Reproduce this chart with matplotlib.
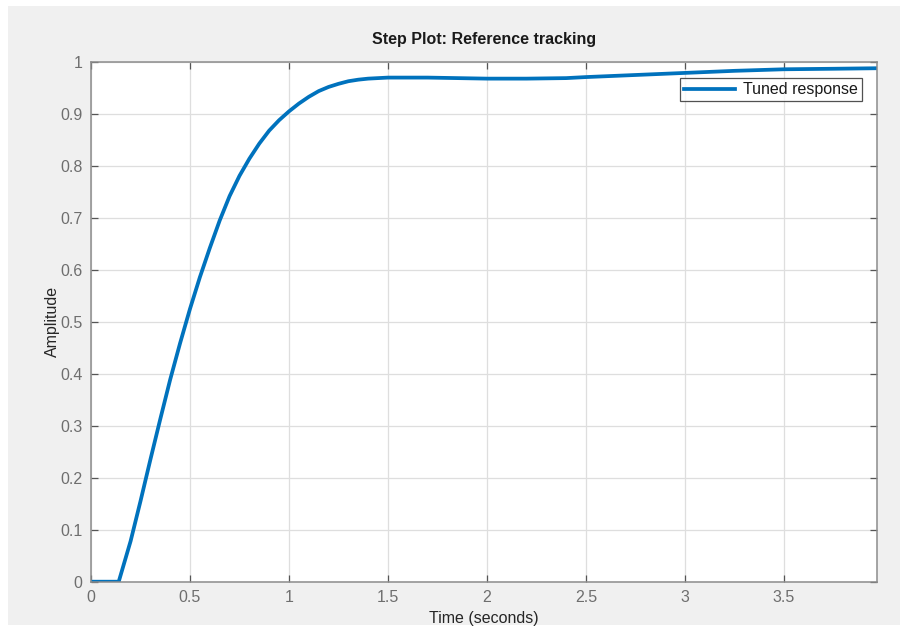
import numpy as np
import matplotlib.pyplot as plt
from matplotlib.patches import Rectangle

tiempo = [0.0, 0.14, 0.2, 0.25, 0.3, 0.35, 0.4, 0.45, 0.5, 0.55, 0.6, 0.65,
          0.7, 0.75, 0.8, 0.85, 0.9, 0.95, 1.0, 1.05, 1.1, 1.15, 1.2, 1.25,
          1.3, 1.35, 1.4, 1.45, 1.5, 1.7, 2.0, 2.2, 2.4, 2.5, 2.75, 3.0,
          3.25, 3.5, 3.75, 3.97]
amplitud = [0.0, 0.0, 0.078, 0.155, 0.235, 0.313, 0.389, 0.459, 0.525, 0.586,
            0.642, 0.695, 0.742, 0.781, 0.814, 0.843, 0.868, 0.888, 0.905, 0.92,
            0.933, 0.944, 0.952, 0.958, 0.963, 0.966, 0.968, 0.969, 0.970,
            0.970, 0.968, 0.968, 0.969, 0.971, 0.975, 0.979, 0.983, 0.986,
            0.987, 0.988]

xticks = [0, 0.5, 1, 1.5, 2, 2.5, 3, 3.5]
yticks = [0, 0.1, 0.2, 0.3, 0.4, 0.5, 0.6, 0.7, 0.8, 0.9, 1]

plt.rcParams['font.family'] = ['Liberation Sans', 'DejaVu Sans']

fig = plt.figure(figsize=(9.07, 6.31), dpi=100)
fig.patch.set_facecolor('white')
# panel gris de fondo (estilo MATLAB)
fondo = Rectangle((8 / 907, 6 / 631), 892 / 907, 619 / 631,
                  transform=fig.transFigure, facecolor='#f0f0f0',
                  edgecolor='none', zorder=-10)
fig.add_artist(fondo)

ax = fig.add_axes([91 / 907, 49.3 / 631, 786 / 907, 519.7 / 631])
ax.set_facecolor('white')

ax.plot(tiempo, amplitud, color='#0072BD', linewidth=2.7, label='Tuned response')

ax.set_xlim(0, 3.97)
ax.set_ylim(0, 1)
ax.set_xticks(xticks)
ax.set_xticklabels(['0', '0.5', '1', '1.5', '2', '2.5', '3', '3.5'])
ax.set_yticks(yticks)
ax.set_yticklabels(['0', '0.1', '0.2', '0.3', '0.4', '0.5', '0.6', '0.7', '0.8', '0.9', '1'])

ax.grid(True, color='#dedede', linewidth=0.9)
ax.set_axisbelow(True)
ax.tick_params(direction='in', length=5, width=0.9, color='#555555',
               labelcolor='#6e6e6e', labelsize=11.5, top=True, right=True, pad=6)
for s in ax.spines.values():
    s.set_color('#8c8c8c')
    s.set_linewidth(1.1)

ax.set_title('Step Plot: Reference tracking', fontsize=11.5, fontweight='bold',
             color='#1a1a1a', pad=13)
ax.set_xlabel('Time (seconds)', fontsize=11.5, color='#262626', labelpad=4)
ax.set_ylabel('Amplitude', fontsize=11.5, color='#262626', labelpad=0)

leg = ax.legend(loc='upper right', bbox_to_anchor=(0.981, 0.969), fontsize=11.5,
                frameon=True, fancybox=False, handlelength=3.2,
                borderpad=0.25, handletextpad=0.5, borderaxespad=0)
leg.get_frame().set_edgecolor('#262626')
leg.get_frame().set_linewidth(0.9)
for txt in leg.get_texts():
    txt.set_color('#1a1a1a')

plt.savefig('out.png', dpi=100, facecolor=fig.get_facecolor())
